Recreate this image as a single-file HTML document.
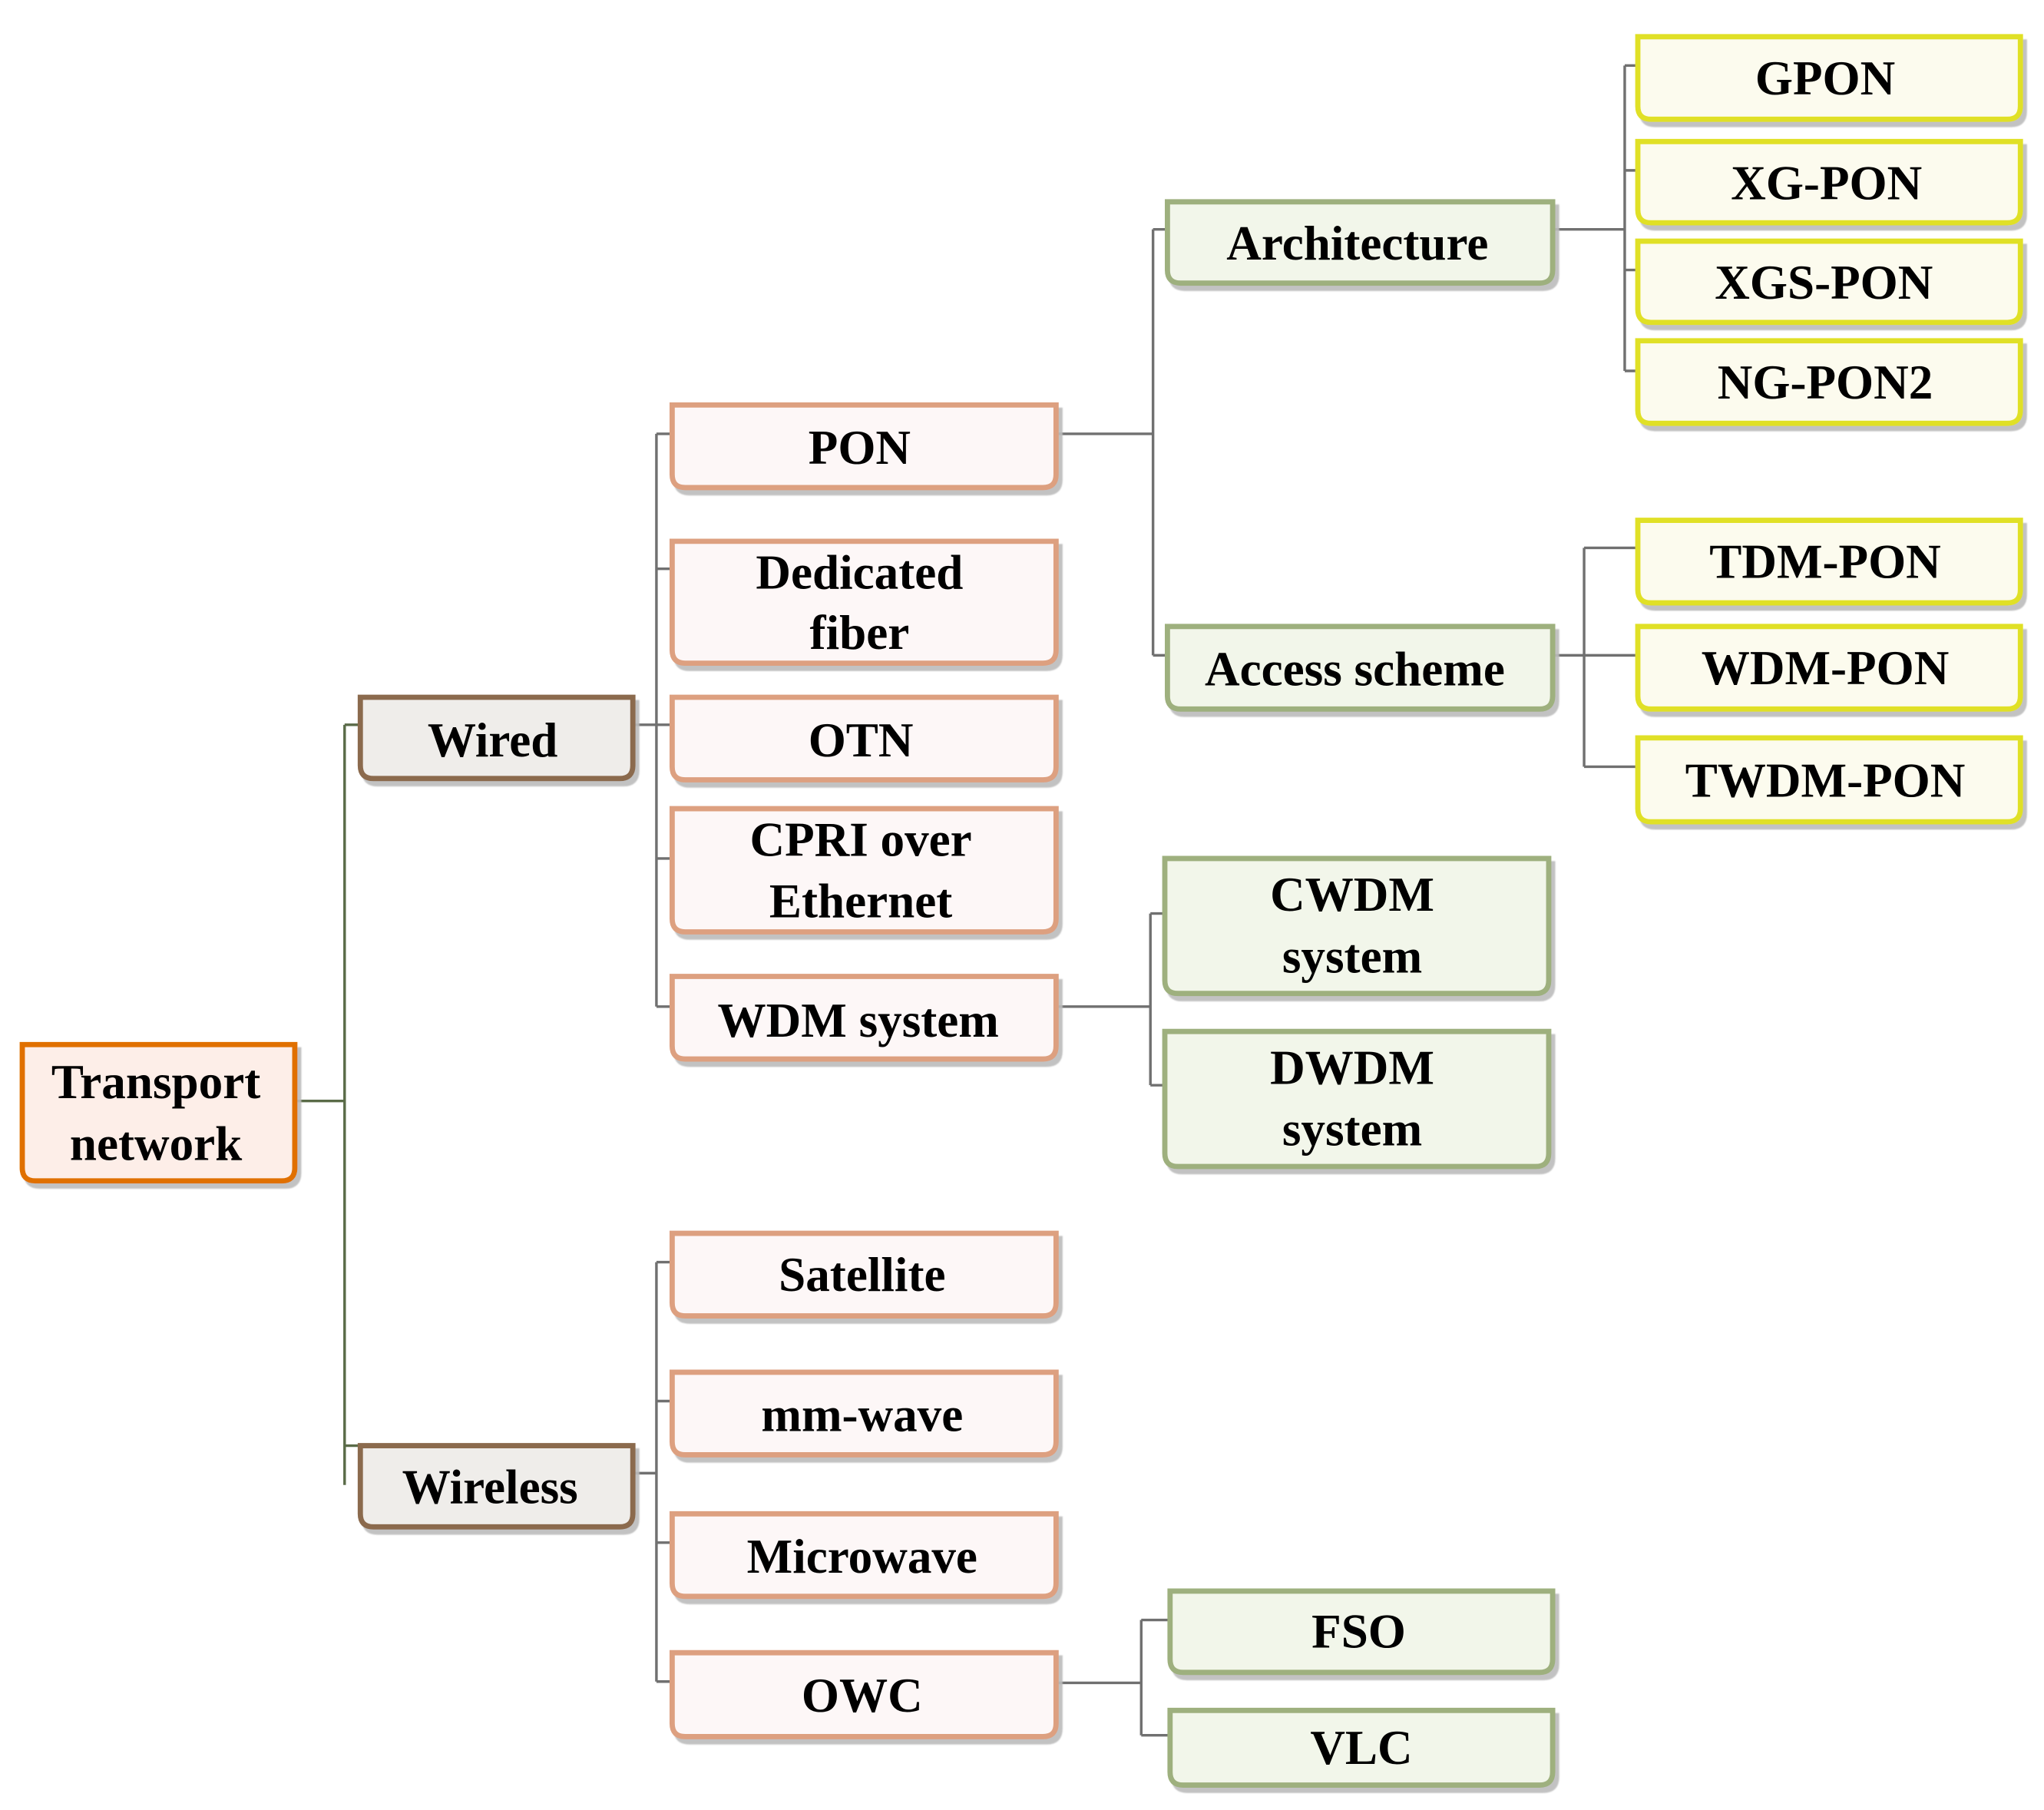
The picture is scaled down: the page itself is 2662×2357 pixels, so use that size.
<!DOCTYPE html>
<html><head><meta charset="utf-8"><style>
html,body{margin:0;padding:0;background:#fff;}
svg{display:block;}
text{font-family:"Liberation Serif",serif;font-weight:bold;font-size:37px;fill:#000;text-anchor:middle;}
</style></head><body>
<svg width="2662" height="2357" viewBox="0 0 1560 1381" preserveAspectRatio="none" xmlns="http://www.w3.org/2000/svg">
<defs>
<filter id="sh" x="-5%" y="-5%" width="115%" height="130%"><feDropShadow dx="3" dy="4" stdDeviation="0.5" flood-color="#bbb" flood-opacity="0.9"/></filter>
</defs>
<!-- connectors -->
<g fill="none" stroke-width="2">
<path stroke="#5a6b48" d="M225 840 H263 M263 553 V1133 M263 553 H275 M263 1103 H275"/>
<path stroke="#707070" d="M483 553 H501 M501 331 V768 M501 331 H513 M501 434 H513 M501 553 H513 M501 655 H513 M501 768 H513"/>
<path stroke="#707070" d="M483 1124 H501 M501 963 V1283 M501 963 H513 M501 1069 H513 M501 1177 H513 M501 1283 H513"/>
<path stroke="#707070" d="M806 331 H880 M880 175 V500 M880 175 H891 M880 500 H891"/>
<path stroke="#707070" d="M806 768 H878 M878 697 V828 M878 697 H889 M878 828 H889"/>
<path stroke="#707070" d="M806 1284 H871 M871 1236 V1324 M871 1236 H893 M871 1324 H893"/>
<path stroke="#707070" d="M1185 175 H1240 M1240 50 V283 M1240 50 H1250 M1240 130 H1250 M1240 206 H1250 M1240 283 H1250"/>
<path stroke="#707070" d="M1185 500 H1250 M1209 418 V585 M1209 418 H1250 M1209 585 H1250"/>
</g>
<!-- boxes -->
<g stroke-width="4" filter="url(#sh)">
<path fill="#fdeee8" stroke="#e07000" d="M17 797 H225 V891 Q225 901 215 901 H27 Q17 901 17 891 Z"/>
<path fill="#efedea" stroke="#8b6b4e" d="M275 532 H483 V584 Q483 594 473 594 H285 Q275 594 275 584 Z"/>
<path fill="#efedea" stroke="#8b6b4e" d="M275 1103 H483 V1155 Q483 1165 473 1165 H285 Q275 1165 275 1155 Z"/>
<g fill="#fdf7f7" stroke="#dda080">
<path d="M513 309 H806 V362 Q806 372 796 372 H523 Q513 372 513 362 Z"/>
<path d="M513 413 H806 V496 Q806 506 796 506 H523 Q513 506 513 496 Z"/>
<path d="M513 532 H806 V585 Q806 595 796 595 H523 Q513 595 513 585 Z"/>
<path d="M513 617 H806 V701 Q806 711 796 711 H523 Q513 711 513 701 Z"/>
<path d="M513 745 H806 V798 Q806 808 796 808 H523 Q513 808 513 798 Z"/>
<path d="M513 941 H806 V994 Q806 1004 796 1004 H523 Q513 1004 513 994 Z"/>
<path d="M513 1047 H806 V1100 Q806 1110 796 1110 H523 Q513 1110 513 1100 Z"/>
<path d="M513 1155 H806 V1208 Q806 1218 796 1218 H523 Q513 1218 513 1208 Z"/>
<path d="M513 1261 H806 V1315 Q806 1325 796 1325 H523 Q513 1325 513 1315 Z"/>
</g>
<g fill="#f2f6ea" stroke="#9eb07e">
<path d="M891 154 H1185 V206 Q1185 216 1175 216 H901 Q891 216 891 206 Z"/>
<path d="M891 478 H1185 V531 Q1185 541 1175 541 H901 Q891 541 891 531 Z"/>
<path d="M889 655 H1182 V748 Q1182 758 1172 758 H899 Q889 758 889 748 Z"/>
<path d="M889 787 H1182 V880 Q1182 890 1172 890 H899 Q889 890 889 880 Z"/>
<path d="M893 1214 H1185 V1266 Q1185 1276 1175 1276 H903 Q893 1276 893 1266 Z"/>
<path d="M893 1305 H1185 V1352 Q1185 1362 1175 1362 H903 Q893 1362 893 1352 Z"/>
</g>
<g fill="#fcfbee" stroke="#e0e028">
<path d="M1250 28 H1542 V81 Q1542 91 1532 91 H1260 Q1250 91 1250 81 Z"/>
<path d="M1250 108 H1542 V160 Q1542 170 1532 170 H1260 Q1250 170 1250 160 Z"/>
<path d="M1250 184 H1542 V236 Q1542 246 1532 246 H1260 Q1250 246 1250 236 Z"/>
<path d="M1250 260 H1542 V313 Q1542 323 1532 323 H1260 Q1250 323 1250 313 Z"/>
<path d="M1250 397 H1542 V450 Q1542 460 1532 460 H1260 Q1250 460 1250 450 Z"/>
<path d="M1250 478 H1542 V531 Q1542 541 1532 541 H1260 Q1250 541 1250 531 Z"/>
<path d="M1250 563 H1542 V617 Q1542 627 1532 627 H1260 Q1250 627 1250 617 Z"/>
</g>
</g>
<!-- labels -->
<text x="119" y="838">Transport</text>
<text x="119" y="885">network</text>
<text x="376" y="577">Wired</text>
<text x="374" y="1147">Wireless</text>
<text x="656" y="354">PON</text>
<text x="656" y="449">Dedicated</text>
<text x="656" y="495">fiber</text>
<text x="657" y="577">OTN</text>
<text x="657" y="653">CPRI over</text>
<text x="657" y="700">Ethernet</text>
<text x="655" y="791">WDM system</text>
<text x="658" y="985">Satellite</text>
<text x="658" y="1092">mm-wave</text>
<text x="658" y="1200">Microwave</text>
<text x="658" y="1306">OWC</text>
<text x="1036" y="198">Architecture</text>
<text x="1034" y="523">Access scheme</text>
<text x="1032" y="695">CWDM</text>
<text x="1032" y="742">system</text>
<text x="1032" y="827">DWDM</text>
<text x="1032" y="874">system</text>
<text x="1037" y="1257">FSO</text>
<text x="1039" y="1346">VLC</text>
<text x="1393" y="72">GPON</text>
<text x="1394" y="152">XG-PON</text>
<text x="1392" y="228">XGS-PON</text>
<text x="1393" y="304">NG-PON2</text>
<text x="1393" y="441">TDM-PON</text>
<text x="1393" y="522">WDM-PON</text>
<text x="1393" y="608">TWDM-PON</text>
</svg>
</body></html>
